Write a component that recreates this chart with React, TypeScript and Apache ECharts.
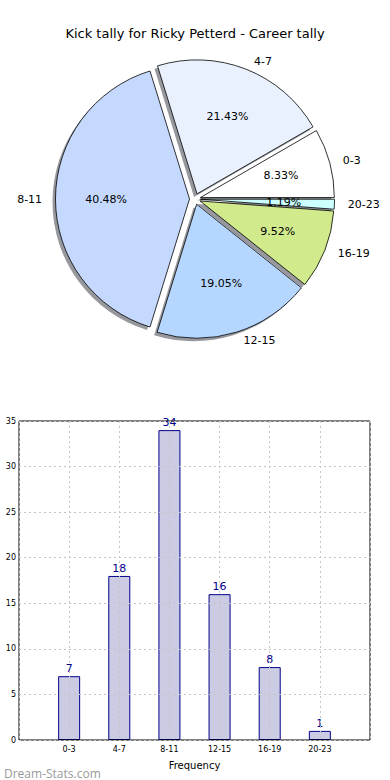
import React, { useEffect, useRef } from "react";
import * as echarts from "echarts";

const titleText = "Kick tally for Ricky Petterd - Career tally";
const categories = ["0-3", "4-7", "8-11", "12-15", "16-19", "20-23"];
const counts = [7, 18, 34, 16, 8, 1];
const pieColors = ["#ffffff", "#e9f1ff", "#c5d9ff", "#b5d7ff", "#d0ea8c", "#ccffff"];
const yTicks = { min: 0, max: 35, interval: 5 };
const xAxisName = "Frequency";
const yAxisName = "No. of Games";
const watermark = "Dream-Stats.com";

const FONT = "DejaVu Sans";

export default function App() {
  const ref = useRef<HTMLDivElement>(null);
  useEffect(() => {
    if (!ref.current) return;
    const chart = echarts.init(ref.current, null, { renderer: "svg" });

    const cx = 195;
    const cy = 199;
    const R = 134;
    const explode = 5.5;
    const total = counts.reduce((a, b) => a + b, 0);

    const shadowSeries: any[] = [];
    const wedgeSeries: any[] = [];
    const pctSeries: any[] = [];
    let cum = 0;
    categories.forEach((_, k) => {
      const mid = ((cum + counts[k] / 2) / total) * Math.PI * 2;
      cum += counts[k];
      const ox = cx + explode * Math.cos(mid);
      const oy = cy - explode * Math.sin(mid);
      const base = {
        type: "pie",
        silent: true,
        startAngle: 0,
        clockwise: false,
        avoidLabelOverlap: false,
        percentPrecision: 2,
        emphasis: { disabled: true },
      };
      shadowSeries.push({
        ...base,
        radius: R,
        center: [ox - 3, oy + 3],
        label: { show: false },
        labelLine: { show: false },
        data: categories.map((c, i) => ({
          name: c,
          value: counts[i],
          itemStyle: {
            color: i === k ? "rgba(45,50,60,0.5)" : "rgba(0,0,0,0)",
            borderWidth: 0,
          },
        })),
      });
      wedgeSeries.push({
        ...base,
        radius: R,
        center: [ox, oy],
        label: {
          show: true,
          position: "outside",
          formatter: "{b}",
          fontSize: 11,
          fontFamily: FONT,
          color: "#000",
        },
        labelLine: { show: false, length: 0.1 * R - 5, length2: 0 },
        data: categories.map((c, i) => ({
          name: c,
          value: counts[i],
          label: { show: i === k },
          itemStyle:
            i === k
              ? { color: pieColors[k], borderColor: "#000", borderWidth: 0.8 }
              : { color: "rgba(0,0,0,0)", borderWidth: 0 },
        })),
      });
      pctSeries.push({
        ...base,
        radius: [0, 1.2 * R],
        center: [ox, oy],
        label: {
          show: true,
          position: "inside",
          formatter: "{d}%",
          fontSize: 11,
          fontFamily: FONT,
          color: "#000",
        },
        labelLine: { show: false },
        data: categories.map((c, i) => ({
          name: c,
          value: counts[i],
          label: { show: i === k },
          itemStyle: { color: "rgba(0,0,0,0)", borderWidth: 0 },
        })),
      });
    });

    const dotted = { show: true, lineStyle: { color: "#c4c4c4", type: [2, 3], width: 1 } };

    chart.setOption({
      animation: false,
      textStyle: { fontFamily: FONT },
      title: [
        {
          text: titleText,
          left: "center",
          top: 22,
          textStyle: { fontSize: 13, fontWeight: "normal", color: "#000", fontFamily: FONT },
        },
        {
          text: watermark,
          left: -1,
          top: 762,
          textStyle: { fontSize: 12, fontWeight: 500, color: "#9a9a9a", fontFamily: "Open Sans" },
        },
      ],
      grid: {
        left: 19,
        right: 20,
        top: 421,
        bottom: 40,
        show: true,
        borderColor: "#000",
        borderWidth: 1,
        containLabel: false,
        outerBoundsMode: "none",
      },
      xAxis: {
        type: "value",
        min: -1,
        max: 6,
        interval: 1,
        name: xAxisName,
        nameLocation: "middle",
        nameGap: 20,
        nameTextStyle: { fontSize: 10, color: "#000", fontFamily: FONT },
        axisLine: { show: false },
        axisTick: { show: false },
        axisLabel: {
          fontSize: 8,
          color: "#000",
          margin: 5,
          fontFamily: FONT,
          formatter: (v: number) => (categories[v] !== undefined ? categories[v] : ""),
        },
        splitLine: dotted,
      },
      yAxis: {
        type: "value",
        min: yTicks.min,
        max: yTicks.max,
        interval: yTicks.interval,
        name: yAxisName,
        nameLocation: "middle",
        nameGap: 20,
        nameTextStyle: { fontSize: 10, color: "#000", fontFamily: FONT },
        axisLine: { show: false },
        axisTick: { show: false },
        axisLabel: { fontSize: 8, color: "#000", margin: 3, fontFamily: FONT },
        splitLine: dotted,
      },
      series: [
        ...shadowSeries,
        ...wedgeSeries,
        ...pctSeries,
        {
          type: "bar",
          silent: true,
          z: -1,
          barWidth: 22,
          data: counts.map((v, i) => [i, v]),
          itemStyle: { color: "#cbcbe3", borderColor: "#00008b", borderWidth: 1 },
          label: {
            show: true,
            position: "top",
            distance: 2,
            fontSize: 11,
            color: "#00008b",
            fontFamily: FONT,
          },
        },
      ],
    });
    return () => chart.dispose();
  }, []);
  return (
    <div
      ref={ref}
      style={{ position: "absolute", left: 0, top: 0, width: 390, height: 780, background: "#fff" }}
    />
  );
}
